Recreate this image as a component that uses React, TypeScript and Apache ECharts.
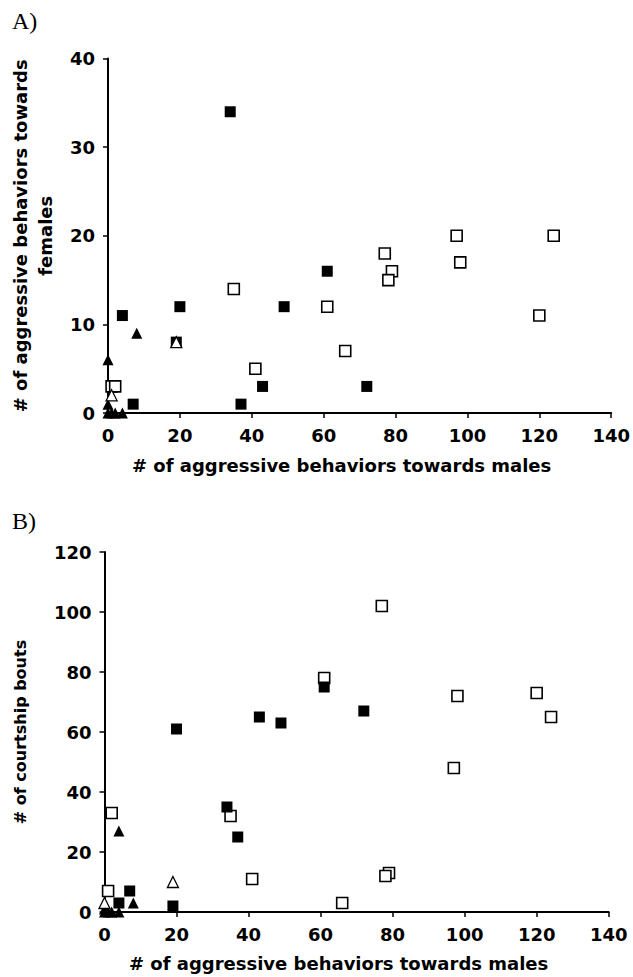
import React, { useEffect, useRef } from "react";
import * as echarts from "echarts";

// Panel A: aggression towards males (x) vs towards females (y)
const aFilledSquares: number[][] = [
  [34, 34], [61, 16], [20, 12], [49, 12], [4, 11], [19, 8], [43, 3], [72, 3], [7, 1], [37, 1],
];
const aOpenSquares: number[][] = [
  [97, 20], [124, 20], [77, 18], [98, 17], [79, 16], [78, 15], [35, 14], [61, 12], [120, 11],
  [66, 7], [41, 5], [1, 3], [2, 3],
];
const aFilledTriangles: number[][] = [
  [8, 9], [0, 6], [0, 1], [0, 0], [1, 0], [2, 0], [4, 0],
];
const aOpenTriangles: number[][] = [
  [19, 8], [1, 2],
];

// Panel B: aggression towards males (x) vs courtship bouts (y)
const bFilledSquares: number[][] = [
  [61, 75], [43, 65], [49, 63], [72, 67], [20, 61], [34, 35], [37, 25], [7, 7], [4, 3], [19, 2],
];
const bOpenSquares: number[][] = [
  [77, 102], [61, 78], [98, 72], [120, 73], [124, 65], [97, 48], [79, 13], [78, 12], [66, 3],
  [41, 11], [35, 32], [2, 33], [1, 7],
];
const bFilledTriangles: number[][] = [
  [4, 27], [8, 3], [0, 1], [0, 0], [1, 0], [2, 0], [4, 0],
];
const bOpenTriangles: number[][] = [
  [19, 10], [0, 3],
];

const xTitle = "# of aggressive behaviors towards males";
const aYTitle = "# of aggressive behaviors towards\nfemales";
const bYTitle = "# of courtship bouts";

const FONT = "'DejaVu Sans', Verdana, sans-serif";

function axisCommon() {
  return {
    axisLine: { show: true, lineStyle: { color: "#000", width: 2 } },
    axisTick: { show: true, inside: false, length: 5, lineStyle: { color: "#000", width: 1.5 } },
    axisLabel: { color: "#000", fontFamily: FONT, fontWeight: "bold" as const, fontSize: 18, margin: 13 },
    splitLine: { show: false },
    nameTextStyle: { color: "#000", fontFamily: FONT, fontWeight: "bold" as const, fontSize: 18 },
  };
}

export default function App() {
  const ref = useRef<HTMLDivElement>(null);
  useEffect(() => {
    if (!ref.current) return;
    const chart = echarts.init(ref.current, undefined, { renderer: "svg" });
    const sq = (name: string, data: number[][], open: boolean, xi: number) => ({
      name,
      type: "scatter",
      xAxisIndex: xi,
      yAxisIndex: xi,
      data,
      symbol: "rect",
      symbolSize: 11,
      clip: false,
      z: open ? 3 : 4,
      itemStyle: open
        ? { color: "#fff", borderColor: "#000", borderWidth: 1.6, opacity: 1 }
        : { color: "#000", opacity: 1 },
    });
    const tri = (name: string, data: number[][], open: boolean, xi: number) => ({
      name,
      type: "scatter",
      xAxisIndex: xi,
      yAxisIndex: xi,
      data,
      symbol: "triangle",
      symbolSize: 11,
      clip: false,
      z: open ? 6 : 5,
      itemStyle: open
        ? { color: "#fff", borderColor: "#000", borderWidth: 1.3, opacity: 1 }
        : { color: "#000", opacity: 1 },
    });
    const xName = {
      ...axisCommon().nameTextStyle,
      padding: [0, 36, 0, 0],
    };
    chart.setOption({
      animation: false,
      backgroundColor: "#fff",
      grid: [
        { left: 105, top: 58.6, width: 508.8, height: 354.4 },
        { left: 104.5, top: 552, width: 504.2, height: 360 },
      ],
      xAxis: [
        {
          ...axisCommon(),
          gridIndex: 0, type: "value", min: 0, max: 140, interval: 20,
          name: xTitle, nameLocation: "middle", nameGap: 43, nameTextStyle: xName,
        },
        {
          ...axisCommon(),
          gridIndex: 1, type: "value", min: 0, max: 140, interval: 20,
          name: xTitle, nameLocation: "middle", nameGap: 42, nameTextStyle: xName,
        },
      ],
      yAxis: [
        {
          ...axisCommon(),
          gridIndex: 0, type: "value", min: 0, max: 40, interval: 10,
          name: aYTitle, nameLocation: "middle", nameGap: 50,
          nameTextStyle: { ...axisCommon().nameTextStyle, lineHeight: 25 },
        },
        {
          ...axisCommon(),
          gridIndex: 1, type: "value", min: 0, max: 120, interval: 20,
          name: bYTitle, nameLocation: "middle", nameGap: 76,
          nameTextStyle: { ...axisCommon().nameTextStyle, fontSize: 16 },
        },
      ],
      graphic: [
        { type: "text", left: 12, top: 9, style: { text: "A)", font: "24px 'Liberation Serif', 'Times New Roman', serif", fill: "#000" } },
        { type: "text", left: 12, top: 509, style: { text: "B)", font: "24px 'Liberation Serif', 'Times New Roman', serif", fill: "#000" } },
      ],
      series: [
        sq("A open squares", aOpenSquares, true, 0),
        sq("A filled squares", aFilledSquares, false, 0),
        tri("A filled triangles", aFilledTriangles, false, 0),
        tri("A open triangles", aOpenTriangles, true, 0),
        sq("B open squares", bOpenSquares, true, 1),
        sq("B filled squares", bFilledSquares, false, 1),
        tri("B filled triangles", bFilledTriangles, false, 1),
        tri("B open triangles", bOpenTriangles, true, 1),
      ],
    });
    return () => chart.dispose();
  }, []);
  return (
    <div
      ref={ref}
      style={{ position: "absolute", left: 0, top: 0, width: 633, height: 977, background: "#fff" }}
    />
  );
}
